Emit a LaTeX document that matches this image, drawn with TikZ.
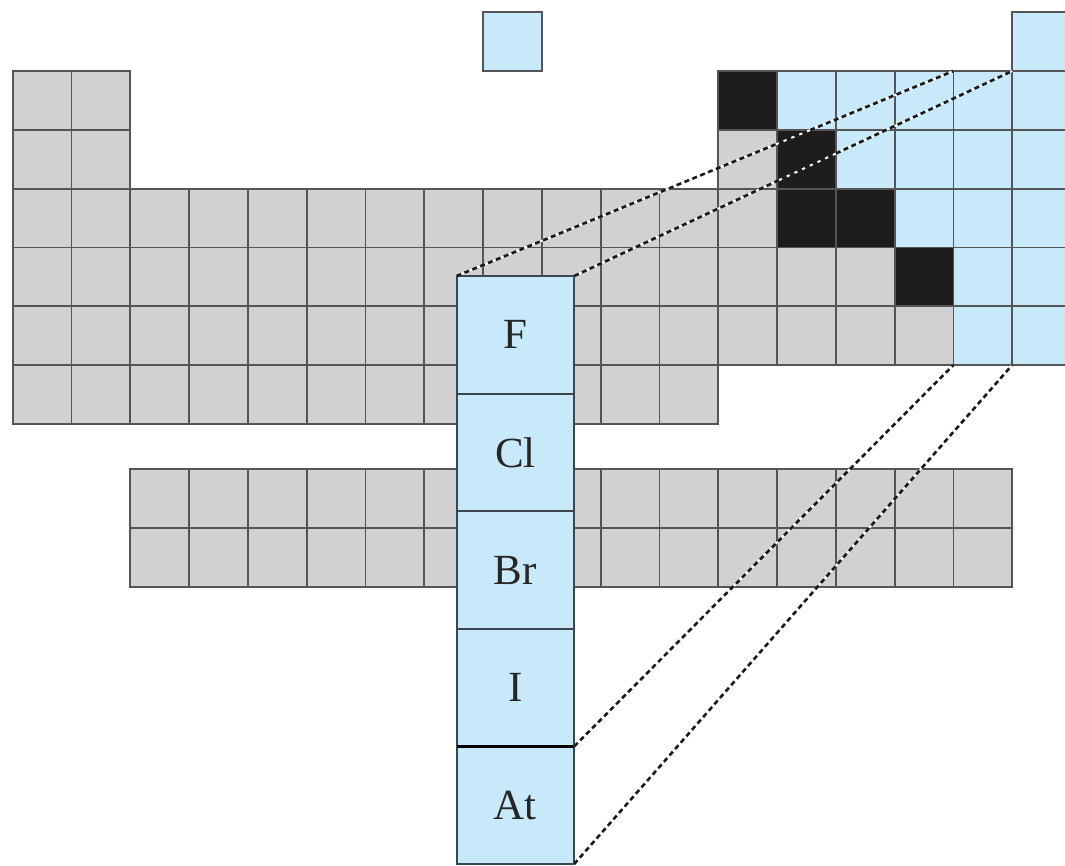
\documentclass[tikz,border=0pt]{standalone}
\usepackage{fontspec}
\setmainfont{Liberation Serif}
\definecolor{cellgray}{RGB}{209,209,211}
\definecolor{cellblue}{RGB}{200,233,249}
\definecolor{cellblack}{RGB}{30,28,29}
\definecolor{gridline}{RGB}{85,85,85}
\definecolor{haloedge}{RGB}{60,70,78}
\begin{document}
\begin{tikzpicture}[x=1pt,y=-1pt,
  cell/.style={draw=gridline, line width=1.8pt, minimum width=58.8pt, minimum height=58.8pt, inner sep=0pt, outer sep=0pt},
  halo/.style={draw=haloedge, fill=cellblue, line width=1.8pt, minimum width=117.6pt, minimum height=117.6pt, inner sep=0pt, outer sep=0pt, font=\fontsize{43}{48}\selectfont, text=black!85},
  underlay/.style={white, line width=2pt},
  proj/.style={black!90, line width=2.6pt, dash pattern=on 5pt off 3.5pt}]
\useasboundingbox (0,0) rectangle (1065,865);
% top row: H and He
\node[cell,fill=cellblue] (c-0-9) at ({12.6+8.5*58.8},{71-0.5*58.8}) {};
\node[cell,fill=cellblue] (c-0-18) at ({12.6+17.5*58.8},{71-0.5*58.8}) {};
% main table
\foreach \r/\a/\b/\col in {1/1/2/cellgray, 1/13/13/cellblack, 1/14/18/cellblue,
  2/1/2/cellgray, 2/13/13/cellgray, 2/14/14/cellblack, 2/15/18/cellblue,
  3/1/13/cellgray, 3/14/15/cellblack, 3/16/18/cellblue,
  4/1/15/cellgray, 4/16/16/cellblack, 4/17/18/cellblue,
  5/1/16/cellgray, 5/17/18/cellblue,
  6/1/12/cellgray}
  \foreach \c in {\a,...,\b}
    \node[cell,fill=\col] (c-\r-\c) at ({12.6+(\c-0.5)*58.8},{71+(\r-0.5)*58.8}) {};
% lanthanides and actinides
\foreach \r in {1,2}
  \foreach \c in {3,...,17}
    \node[cell,fill=cellgray] (f-\r-\c) at ({12.6+(\c-0.5)*58.8},{469.3+(\r-0.5)*58.8}) {};
% enlarged halogen column
\node[halo] (hF)  at (515.4,334.8) {F};
\node[halo] (hCl) at (515.4,452.4) {Cl};
\node[halo] (hBr) at (515.4,570.0) {Br};
\node[halo] (hI)  at (515.4,687.6) {I};
\node[halo] (hAt) at (515.4,805.2) {At};
\draw[black, line width=2.6pt] (hI.south west) -- (hI.south east);
% projection lines
\foreach \p/\q in {hF.north west/c-1-17.north west, hF.north east/c-1-17.north east,
  hI.south east/c-5-17.south west, hAt.south east/c-5-17.south east} {
  \draw[underlay] (\p) -- (\q);
  \draw[proj] (\p) -- (\q);
}
\end{tikzpicture}
\end{document}
